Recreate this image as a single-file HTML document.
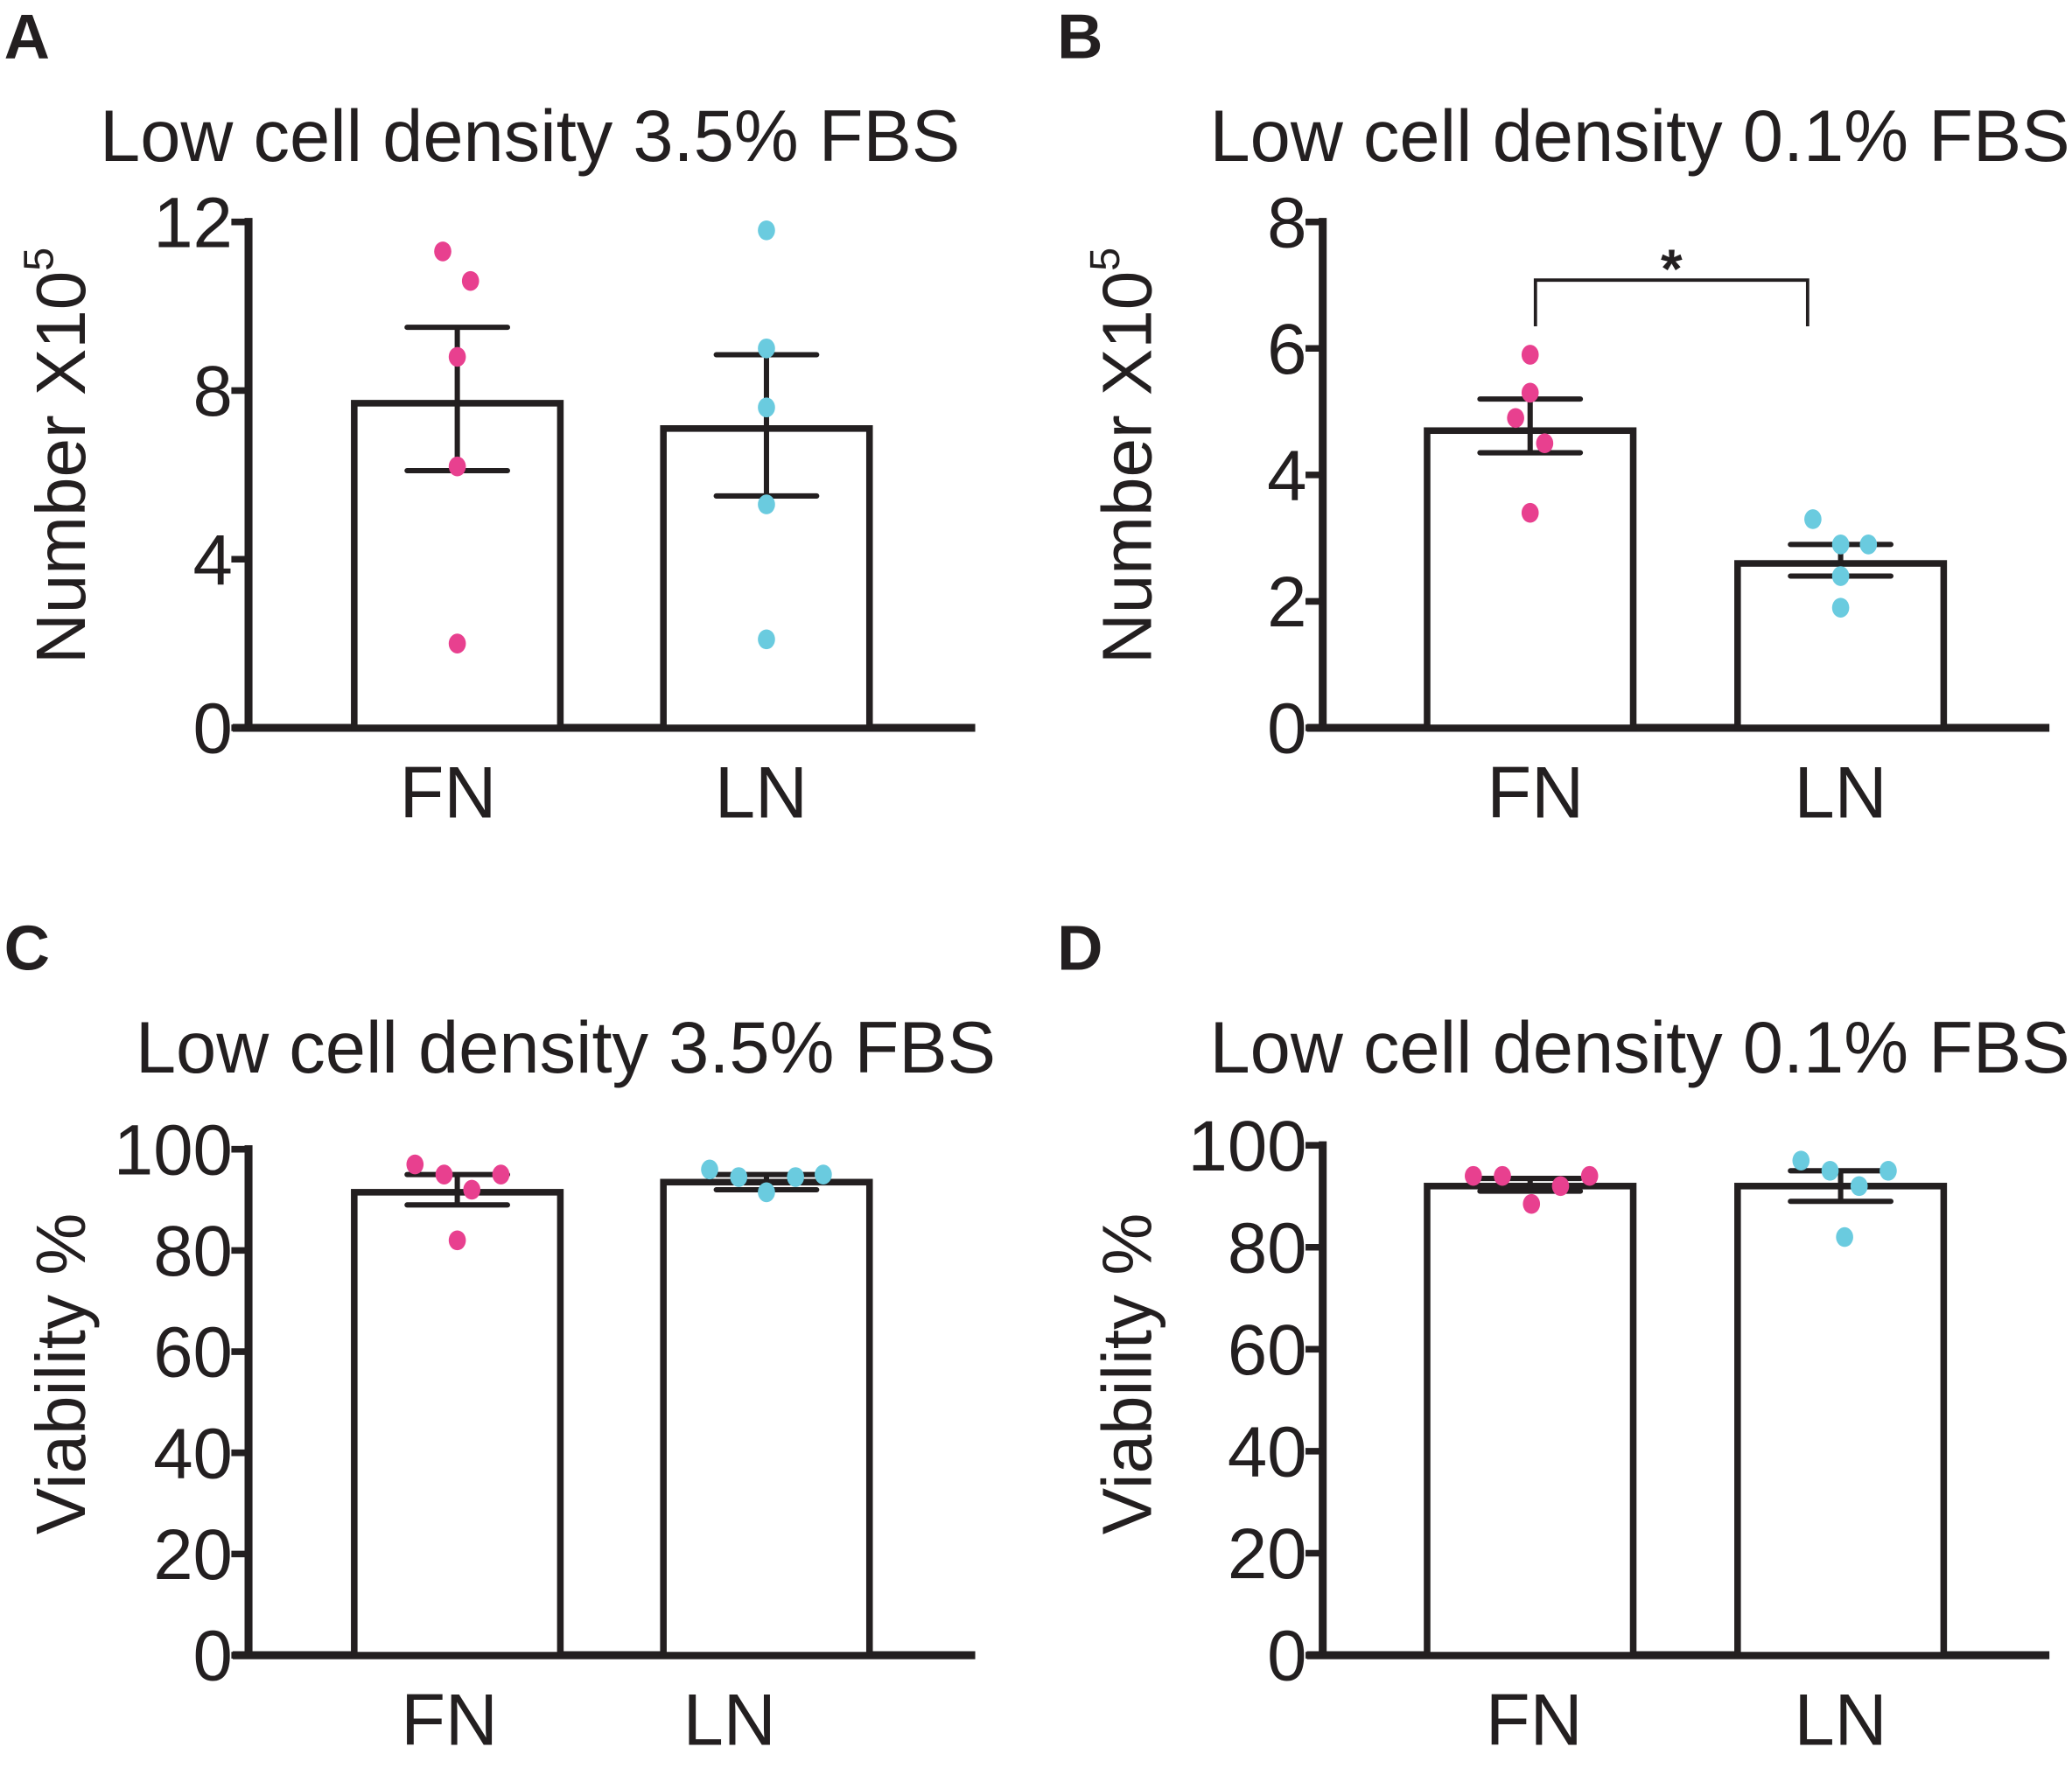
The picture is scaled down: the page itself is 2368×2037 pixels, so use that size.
<!DOCTYPE html>
<html><head><meta charset="utf-8"><style>
html,body{margin:0;padding:0;background:#fff}
svg{display:block}
text{font-family:"Liberation Sans",Arial,sans-serif;fill:#231f20}
</style></head><body>
<svg id="fig" width="2368" height="2037" viewBox="0 0 1568 1349" xmlns="http://www.w3.org/2000/svg"></svg>
<script>
// ---- data ----
const categories = ["FN", "LN"];
const titleA = "Low cell density 3.5% FBS";
const titleB = "Low cell density 0.1% FBS";
const ticksA = [0, 4, 8, 12];
const meansA = [7.7, 7.1];
const errLoA = [6.1, 5.5];
const errHiA = [9.5, 8.85];
const ptsFN_A = [11.3, 10.6, 8.8, 6.2, 2.0];
const ptsLN_A = [11.8, 9.0, 7.6, 5.3, 2.1];
const ticksB = [0, 2, 4, 6, 8];
const meansB = [4.7, 2.6];
const errLoB = [4.35, 2.4];
const errHiB = [5.2, 2.9];
const ptsFN_B = [5.9, 5.3, 4.9, 4.5, 3.4];
const ptsLN_B = [3.3, 2.9, 2.9, 2.4, 1.9];
const ticksC = [0, 20, 40, 60, 80, 100];
const meansC = [91.5, 93.5];
const errLoC = [89, 92];
const errHiC = [95, 95];
const ptsFN_C = [97, 95, 92, 95, 82];
const ptsLN_C = [96, 94.5, 91.5, 94.5, 95];
const meansD = [92, 92];
const errLoD = [91, 89];
const errHiD = [93.5, 95];
const ptsFN_D = [94, 94, 88.5, 92, 94];
const ptsLN_D = [97, 95, 92, 95, 82];

const NS = "http://www.w3.org/2000/svg";
const svg = document.getElementById("fig");
const DARK = "#231f20", PINK = "#e8408f", CYAN = "#6acbdf";
function mk(tag, attrs, parent) {
  const e = document.createElementNS(NS, tag);
  for (const k in attrs) e.setAttribute(k, attrs[k]);
  (parent || svg).appendChild(e);
  return e;
}

function panel(cfg) {
  const g = mk("g", {});
  
  
  const y = v => cfg.y0 - (v - cfg.min) / (cfg.max - cfg.min) * (cfg.y0 - cfg.yTop);
  const L = mk("text", {x: cfg.lx, y: cfg.ly, "font-size": 48, "font-weight": "bold"}, g);
  L.textContent = cfg.letter;
  
  
  const T = mk("text", {x: cfg.tx, y: cfg.ty, "font-size": 55, "text-anchor": "middle"}, g);
  T.textContent = cfg.title;
  
  
  const YT = mk("text", {x: 0, y: 0, "font-size": 53, "text-anchor": "middle",
    transform: `translate(${cfg.ytx},${cfg.yty}) rotate(-90)`}, g);
  
  
  if (cfg.sup) {
    YT.textContent = cfg.ytitle;
    const s = mk("tspan", {"font-size": 32, dy: -24}, YT);
    s.textContent = "5";
  } else YT.textContent = cfg.ytitle;
  const ax = mk("line", {x1: cfg.ax, y1: cfg.yTop - 3, x2: cfg.ax, y2: cfg.y0, stroke: DARK, "stroke-width": 6}, g);
  
  
  const xa = mk("line", {x1: cfg.ax - 12, y1: cfg.y0, x2: cfg.ax + 550, y2: cfg.y0, stroke: DARK, "stroke-width": 6}, g);
  
  
  cfg.ticks.forEach(t => {
    const tl = mk("line", {x1: cfg.ax - 13, y1: y(t), x2: cfg.ax, y2: y(t), stroke: DARK, "stroke-width": 5}, g);
    
    
    const tx = mk("text", {x: cfg.ax - 12, y: y(t) + 19, "font-size": 54, "text-anchor": "end"}, g);
    tx.textContent = t;
    
    
  });
  const bw = 156;
  cfg.barX.forEach((bx, i) => {
    const cx = bx + bw / 2;
    const r = mk("rect", {x: bx, y: y(cfg.means[i]), width: bw, height: cfg.y0 - y(cfg.means[i]),
      fill: "#fff", stroke: DARK, "stroke-width": 5}, g);
    
    
    const e = mk("path", {d: `M${cx},${y(cfg.lo[i])}V${y(cfg.hi[i])}M${cx - 38},${y(cfg.hi[i])}H${cx + 38}M${cx - 38},${y(cfg.lo[i])}H${cx + 38}`,
      stroke: DARK, "stroke-width": 4, "stroke-linecap": "round", fill: "none"}, g);
    
    
    const pts = i === 0 ? cfg.fn : cfg.ln;
    const offs = cfg.offs[i];
    pts.forEach((v, j) => {
      const c = mk("ellipse", {cx: cx + offs[j], cy: y(v), rx: 6.5, ry: 7.5, fill: i === 0 ? PINK : CYAN}, g);
      
      
    });
    const cl = mk("text", {x: cx + cfg.catOff[i], y: cfg.y0 + 68, "font-size": 55, "text-anchor": "middle"}, g);
    cl.textContent = categories[i];
    
    
  });
  return {g, y};
}

panel({name: "panel-a", letter: "A", lx: 3, ly: 44, title: titleA, tx: 401, ty: 122,
  ytitle: "Number X10", sup: true, ytx: 64, yty: 345, ax: 188, y0: 551, yTop: 168, min: 0, max: 12,
  ticks: ticksA, means: meansA, lo: errLoA, hi: errHiA, fn: ptsFN_A, ln: ptsLN_A,
  barX: [268, 502], offs: [[-11, 10, 0, 0, 0], [0, 0, 0, 0, 0]], catOff: [-7, -4]});
const pb = panel({name: "panel-b", letter: "B", lx: 800, ly: 44, title: titleB, tx: 1241, ty: 122,
  ytitle: "Number X10", sup: true, ytx: 871, yty: 345, ax: 1001, y0: 551, yTop: 168, min: 0, max: 8,
  ticks: ticksB, means: meansB, lo: errLoB, hi: errHiB, fn: ptsFN_B, ln: ptsLN_B,
  barX: [1080, 1315], offs: [[0, 0, -11, 11, 0], [-21, 0, 21, 0, 0]], catOff: [4, 0]});
const br = mk("path", {d: `M1162,247V${pb.y(7.08)}H1368V247`, stroke: DARK, "stroke-width": 2.5, fill: "none"}, pb.g);


const st = mk("text", {x: 1265, y: 218, "font-size": 42, "font-weight": "bold", "text-anchor": "middle"}, pb.g);
st.textContent = "*";



panel({name: "panel-c", letter: "C", lx: 3, ly: 734, title: titleA, tx: 428, ty: 812,
  ytitle: "Viability %", sup: false, ytx: 64, yty: 1040, ax: 188, y0: 1253, yTop: 870, min: 0, max: 100,
  ticks: ticksC, means: meansC, lo: errLoC, hi: errHiC, fn: ptsFN_C, ln: ptsLN_C,
  barX: [268, 502], offs: [[-32, -10, 11, 33, 0], [-43, -21, 0, 22, 43]], catOff: [-6, -28]});
panel({name: "panel-d", letter: "D", lx: 800, ly: 734, title: titleB, tx: 1241, ty: 812,
  ytitle: "Viability %", sup: false, ytx: 871, yty: 1040, ax: 1001, y0: 1253, yTop: 867, min: 0, max: 100,
  ticks: ticksC, means: meansD, lo: errLoD, hi: errHiD, fn: ptsFN_D, ln: ptsLN_D,
  barX: [1080, 1315], offs: [[-43, -21, 1, 23, 45], [-30, -8, 14, 36, 3]], catOff: [3, 0]});
</script>
</body></html>
